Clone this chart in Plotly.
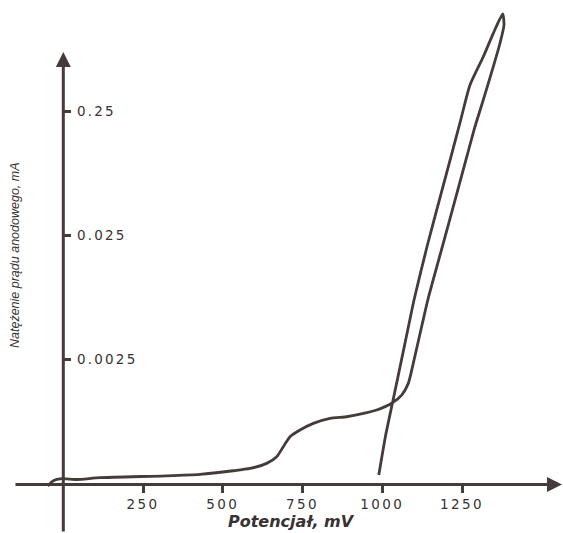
import plotly.graph_objects as go

# Forward scan (potential mV, current mA)
fwd_mv = [-48.9, -31.3, -5.0, 42.0, 115.0, 324.1, 428.5, 532.0, 585.3, 637.6, 669.0, 689.7,
          710.7, 742.0, 783.7, 836.1, 888.4, 930.1, 982.4, 1029.5, 1060.8, 1081.5, 1099.4,
          1124.5, 1144.2, 1185.3, 1231.0, 1264.9, 1290.6, 1316.6, 1348.0, 1368.9, 1381.5, 1377.4]
fwd_ma = [2.37e-4, 2.61e-4, 2.71e-4, 2.67e-4, 2.76e-4, 2.86e-4, 2.94e-4, 3.14e-4, 3.28e-4,
          3.60e-4, 4.07e-4, 4.91e-4, 5.91e-4, 6.69e-4, 7.57e-4, 8.32e-4, 8.56e-4, 8.97e-4,
          9.70e-4, 1.10e-3, 1.28e-3, 1.59e-3, 2.45e-3, 4.70e-3, 7.76e-3, 0.0189, 0.0509, 0.107,
          0.187, 0.307, 0.569, 0.879, 1.234, 1.514]
# Reverse scan
rev_mv = [1348.0, 1316.6, 1274.9, 1245.8, 1215.4, 1181.8, 1140.1, 1100.9, 1075.2, 1053.6,
          1031.7, 1009.7, 989.0]
rev_ma = [1.058, 0.685, 0.405, 0.2115, 0.107, 0.0509, 0.0201, 7.76e-3, 3.76e-3, 2.04e-3,
          1.10e-3, 5.91e-4, 2.90e-4]

x_ticks = [250, 500, 750, 1000, 1250]
x_ticklabels = ["250", "500", "750", "1000", "1250"]
y_ticks = [0.0025, 0.025, 0.25]
y_ticklabels = ["0.0025", "0.025", "0.25"]

x_title = "Potencjał, mV"
y_title = "Natężenie prądu anodowego, mA"

LINE = "#453b3b"
TXT = "#383232"
W, H = 563, 533

fig = go.Figure()
fig.add_trace(go.Scatter(
    x=fwd_mv + rev_mv, y=fwd_ma + rev_ma, mode="lines",
    line=dict(color=LINE, width=2.8, shape="spline", smoothing=0.6),
    hoverinfo="skip", showlegend=False))

def spaced(s, sp):
    return '<span style="letter-spacing:%spx">%s</span>' % (sp, s)

fig.update_layout(
    width=W, height=H, margin=dict(l=0, r=0, t=0, b=0),
    paper_bgcolor="white", plot_bgcolor="white", showlegend=False,
    xaxis=dict(range=[-198.4, 1566.5], anchor="free", position=1 - 485 / H, side="bottom",
               showgrid=False, zeroline=False, showline=False,
               tickmode="array", tickvals=x_ticks, ticktext=[spaced(t, 2.4) for t in x_ticklabels],
               ticks="outside", ticklen=7, tickwidth=2.5, tickcolor=LINE,
               tickfont=dict(family="DejaVu Sans", size=13.5, color=TXT)),
    yaxis=dict(type="log", range=[-4.005, 0.293], anchor="free", position=63.3 / W, side="right",
               showgrid=False, zeroline=False, showline=False,
               tickmode="array", tickvals=y_ticks, ticktext=[spaced(t, 2.2) for t in y_ticklabels],
               ticks="outside", ticklen=7, tickwidth=2.5, tickcolor=LINE, ticklabelstandoff=3,
               tickfont=dict(family="DejaVu Sans", size=13.5, color=TXT)),
)

# axis arrows
fig.add_annotation(xref="paper", yref="paper", axref="pixel", ayref="pixel",
                   x=63.3 / W, y=1 - 52 / H, ax=0, ay=485, text="", showarrow=True,
                   arrowhead=2, arrowsize=1, arrowwidth=3, arrowcolor=LINE, standoff=0)
fig.add_annotation(xref="paper", yref="paper", axref="pixel", ayref="pixel",
                   x=562 / W, y=1 - 484.5 / H, ax=-548, ay=0, text="", showarrow=True,
                   arrowhead=2, arrowsize=1, arrowwidth=3, arrowcolor=LINE, standoff=0)

fig.add_annotation(xref="paper", yref="paper", x=291 / W, y=1 - 521 / H, text="<b><i>%s</i></b>" % x_title,
                   showarrow=False, font=dict(family="DejaVu Sans", size=16, color=TXT),
                   xanchor="center", yanchor="middle")
fig.add_annotation(xref="paper", yref="paper", x=15 / W, y=1 - 255 / H, text="<i>%s</i>" % y_title,
                   showarrow=False, textangle=-90,
                   font=dict(family="Liberation Sans", size=12.5, color=TXT),
                   xanchor="center", yanchor="middle")

fig.write_html("out.html", config={"displayModeBar": False},
               post_script="document.body.style.margin='0';document.body.style.overflow='hidden';")
